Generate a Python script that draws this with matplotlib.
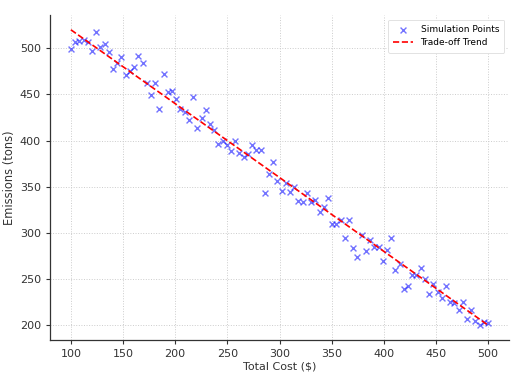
import numpy as np
import matplotlib
matplotlib.use("Agg")
import matplotlib.pyplot as plt

cost = np.linspace(100, 500, 100)
emissions = [
    499, 507, 508, 509, 507, 497, 518, 501, 505, 496,
    477, 484, 491, 471, 475, 480, 492, 484, 462, 449,
    462, 434, 472, 453, 454, 445, 434, 431, 422, 447,
    414, 424, 433, 418, 411, 396, 399, 395, 389, 399,
    387, 382, 385, 395, 390, 390, 343, 364, 377, 356,
    345, 354, 344, 350, 335, 334, 343, 334, 336, 323,
    328, 338, 310, 310, 314, 294, 314, 284, 274, 298,
    280, 292, 285, 285, 270, 281, 295, 260, 266, 239,
    242, 254, 254, 262, 250, 234, 245, 236, 229, 242,
    225, 224, 217, 225, 207, 216, 205, 200, 204, 202,
]
trend_x = [100, 500]
trend_y = [520, 200]

fig = plt.figure(figsize=(5.2, 3.75), dpi=100)
ax = fig.add_axes([50/520, 35/375, 459/520, 325/375])

ax.scatter(cost, emissions, marker='x', color='blue', alpha=0.55, s=18,
           linewidths=1.0, label='Simulation Points', zorder=3)
ax.plot(trend_x, trend_y, color='red', linestyle='--', linewidth=1.2,
        label='Trade-off Trend', zorder=4)

ax.set_xlim(80, 520)
ax.set_ylim(184, 536)
ax.set_xticks(np.arange(100, 501, 50))
ax.set_yticks(np.arange(200, 501, 50))

ax.grid(True, linestyle=':', color='#cccccc', linewidth=0.7)
ax.set_axisbelow(True)
for s in ['top', 'right']:
    ax.spines[s].set_visible(False)
for s in ['left', 'bottom']:
    ax.spines[s].set_color('#333333')
    ax.spines[s].set_linewidth(0.9)

ax.tick_params(labelsize=8, colors='#333333', length=3, width=0.8)
ax.set_xlabel('Total Cost ($)', fontsize=8, color='#333333', labelpad=2)
ax.set_ylabel('Emissions (tons)', fontsize=8.3, color='#333333', labelpad=3)

leg = ax.legend(loc='upper right', fontsize=6.5, frameon=True, framealpha=1,
                edgecolor='#dddddd', handlelength=2.2, borderpad=0.6)
leg.get_frame().set_linewidth(0.6)

fig.savefig('out.png', dpi=100)
